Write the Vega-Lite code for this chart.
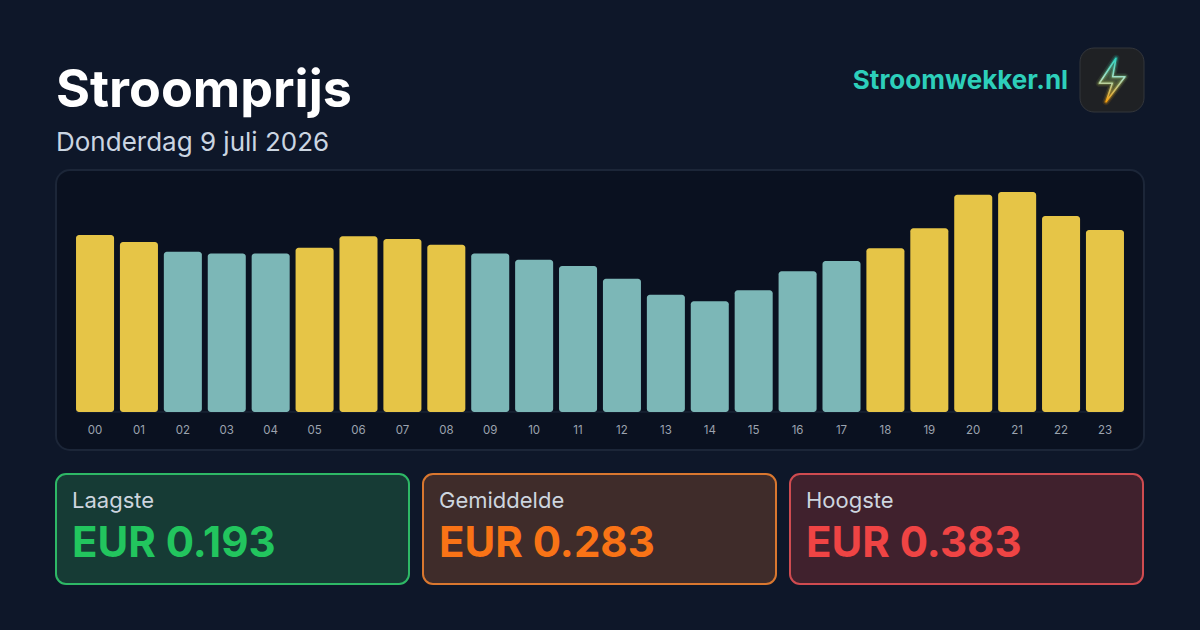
{
"$schema":"https://vega.github.io/schema/vega-lite/v6.json",
"background":"#0e1729",
"padding":{"left":55,"top":47,"right":55,"bottom":45},
"bounds":"flush",
"spacing":122,
"config":{"view":{"stroke":null},"font":"Inter","title":{"font":"Inter"}},
"vconcat":[
{"bounds":"flush","spacing":13,"hconcat":[
 {"width":783,"height":64,"data":{"values":[{"kop":"Stroomprijs"}]},
  "title":{"text":"Stroomprijs","subtitle":"Donderdag 9 juli 2026","anchor":"start","frame":"group","offset":-109,"color":"#ffffff","fontSize":52,"fontWeight":700,"subtitleColor":"#cbd5e1","subtitleFontSize":26,"subtitleFontWeight":400,"subtitlePadding":12,"subtitleFont":"Inter"},
  "mark":{"type":"rect","opacity":0}},
 {"width":215,"height":64,"data":{"values":[{"merk":"Stroomwekker.nl"}]},
  "mark":{"type":"text","font":"Inter","fontSize":26,"fontWeight":700,"color":"#2dcfba","dx":1,"dy":1},
  "encoding":{"text":{"field":"merk"}}},
 {"width":64,"height":64,"data":{"values":[{"logo":"bolt"}]},
  "layer":[
   {"mark":{"type":"rect","fill":"#1f2124","stroke":"#33363b","strokeWidth":1,"cornerRadius":14}},
   {"mark":{"type":"point","shape":"M0.18,-0.986L-0.577,0.15L0.014,0.15L-0.27,0.986L0.59,-0.15L0.032,-0.15Z","size":1936,"filled":false,"strokeWidth":7,"strokeJoin":"round","opacity":0.12,
     "stroke":{"gradient":"linear","x1":0,"y1":0,"x2":0,"y2":1,"stops":[{"offset":0,"color":"#2dd4bf"},{"offset":1,"color":"#f59e0b"}]}}},
   {"mark":{"type":"point","shape":"M0.18,-0.986L-0.577,0.15L0.014,0.15L-0.27,0.986L0.59,-0.15L0.032,-0.15Z","size":1936,"filled":false,"strokeWidth":4,"strokeJoin":"round","opacity":0.3,
     "stroke":{"gradient":"linear","x1":0,"y1":0,"x2":0,"y2":1,"stops":[{"offset":0,"color":"#2dd4bf"},{"offset":1,"color":"#f59e0b"}]}}},
   {"mark":{"type":"point","shape":"M0.18,-0.986L-0.577,0.15L0.014,0.15L-0.27,0.986L0.59,-0.15L0.032,-0.15Z","size":1936,"filled":true,"strokeWidth":1.6,"strokeJoin":"round","opacity":1,"fillOpacity":0.28,"strokeOpacity":1,
     "fill":{"gradient":"linear","x1":0,"y1":0,"x2":0,"y2":1,"stops":[{"offset":0,"color":"#2dd4bf"},{"offset":1,"color":"#f59e0b"}]},
     "stroke":{"gradient":"linear","x1":0,"y1":0,"x2":0,"y2":1,"stops":[{"offset":0,"color":"#2dd4bf"},{"offset":0.45,"color":"#a7e0c8"},{"offset":1,"color":"#f59e0b"}]}}}
  ]}
]},
{"bounds":"flush","spacing":24,"vconcat":[
{"width":1088,"height":280,
 "view":{"fill":"#0a1120","stroke":"#1c2638","strokeWidth":2,"cornerRadius":14},
 "data":{"values":[
 {"uur":"00","prijs":0.308,"niveau":"hoog"},{"uur":"01","prijs":0.296,"niveau":"hoog"},{"uur":"02","prijs":0.279,"niveau":"laag"},{"uur":"03","prijs":0.276,"niveau":"laag"},{"uur":"04","prijs":0.276,"niveau":"laag"},{"uur":"05","prijs":0.286,"niveau":"hoog"},{"uur":"06","prijs":0.306,"niveau":"hoog"},{"uur":"07","prijs":0.301,"niveau":"hoog"},{"uur":"08","prijs":0.291,"niveau":"hoog"},{"uur":"09","prijs":0.276,"niveau":"laag"},{"uur":"10","prijs":0.265,"niveau":"laag"},{"uur":"11","prijs":0.254,"niveau":"laag"},{"uur":"12","prijs":0.232,"niveau":"laag"},{"uur":"13","prijs":0.204,"niveau":"laag"},{"uur":"14","prijs":0.193,"niveau":"laag"},{"uur":"15","prijs":0.212,"niveau":"laag"},{"uur":"16","prijs":0.245,"niveau":"laag"},{"uur":"17","prijs":0.263,"niveau":"laag"},{"uur":"18","prijs":0.285,"niveau":"hoog"},{"uur":"19","prijs":0.320,"niveau":"hoog"},{"uur":"20","prijs":0.378,"niveau":"hoog"},{"uur":"21","prijs":0.383,"niveau":"hoog"},{"uur":"22","prijs":0.341,"niveau":"hoog"},{"uur":"23","prijs":0.317,"niveau":"hoog"}
 ]},
 "resolve":{"scale":{"x":"independent"}},
 "layer":[
  {"data":{"values":[{"begin":0,"eind":24,"nul":0}]},
   "mark":{"type":"rule","color":"#1f2a3c","strokeWidth":1},
   "encoding":{
    "x":{"field":"begin","type":"quantitative","axis":null,"scale":{"domain":[-0.458,24.458],"nice":false,"zero":false}},
    "x2":{"field":"eind"},
    "y":{"field":"nul","type":"quantitative","axis":null,"scale":{"domain":[-0.0662,0.4213],"nice":false,"zero":false}}
   }},
  {"mark":{"type":"bar","cornerRadius":3},
   "encoding":{
    "x":{"field":"uur","type":"ordinal","sort":null,"title":null,
      "scale":{"paddingInner":0.134,"paddingOuter":0.456},
      "axis":{"orient":"bottom","domain":false,"ticks":false,"labelAngle":0,"labelFont":"Inter","labelFontSize":11.5,"labelColor":"#9ca3af","labelPadding":0,"offset":-26,"grid":false}},
    "y":{"field":"prijs","type":"quantitative","axis":null,"scale":{"domain":[-0.0662,0.4213],"nice":false,"zero":false}},
    "y2":{"datum":0},
    "color":{"field":"niveau","type":"nominal","legend":null,"scale":{"domain":["hoog","laag"],"range":["#e6c547","#7cb7b7"]}}
   }}
 ]},
{"bounds":"flush","spacing":14,"hconcat":[
 {"width":353,"height":110,"data":{"values":[{"kaart":"Laagste"}]},
  "title":{"text":"Laagste","subtitle":"EUR 0.193","anchor":"start","frame":"group","dx":16,"offset":-93,"color":"#cdd5df","fontSize":22,"fontWeight":400,"subtitleColor":"#22c55e","subtitleFontSize":42,"subtitleFontWeight":700,"subtitlePadding":11,"subtitleFont":"Inter"},
  "mark":{"type":"rect","fill":"#163b35","stroke":"#2eb866","strokeWidth":2,"cornerRadius":10}},
 {"width":353,"height":110,"data":{"values":[{"kaart":"Gemiddelde"}]},
  "title":{"text":"Gemiddelde","subtitle":"EUR 0.283","anchor":"start","frame":"group","dx":16,"offset":-93,"color":"#cdd5df","fontSize":22,"fontWeight":400,"subtitleColor":"#f97316","subtitleFontSize":42,"subtitleFontWeight":700,"subtitlePadding":11,"subtitleFont":"Inter"},
  "mark":{"type":"rect","fill":"#3f2c2a","stroke":"#d9772f","strokeWidth":2,"cornerRadius":10}},
 {"width":353,"height":110,"data":{"values":[{"kaart":"Hoogste"}]},
  "title":{"text":"Hoogste","subtitle":"EUR 0.383","anchor":"start","frame":"group","dx":16,"offset":-93,"color":"#cdd5df","fontSize":22,"fontWeight":400,"subtitleColor":"#ef4444","subtitleFontSize":42,"subtitleFontWeight":700,"subtitlePadding":11,"subtitleFont":"Inter"},
  "mark":{"type":"rect","fill":"#40212d","stroke":"#cf4b50","strokeWidth":2,"cornerRadius":10}}
]}
]}
]}
